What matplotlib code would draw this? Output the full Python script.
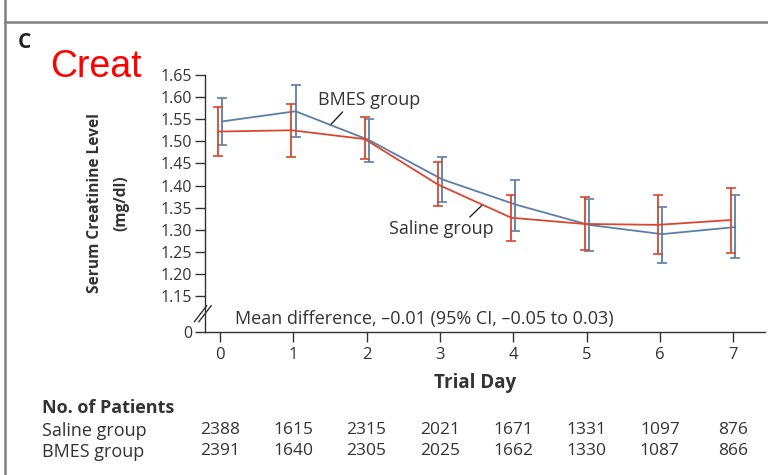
import matplotlib
matplotlib.use("Agg")
from matplotlib import pyplot as plt
import numpy as np

plt.rcParams['font.family'] = ['Open Sans', 'DejaVu Sans']

days = [0, 1, 2, 3, 4, 5, 6, 7]
saline_mean = [1.522, 1.525, 1.505, 1.402, 1.327, 1.313, 1.311, 1.322]
saline_hi = [1.577, 1.584, 1.555, 1.454, 1.379, 1.375, 1.378, 1.395]
saline_lo = [1.466, 1.464, 1.460, 1.354, 1.274, 1.253, 1.244, 1.248]
bmes_mean = [1.545, 1.568, 1.503, 1.414, 1.357, 1.311, 1.290, 1.306]
bmes_hi = [1.599, 1.627, 1.551, 1.464, 1.413, 1.369, 1.352, 1.378]
bmes_lo = [1.491, 1.509, 1.454, 1.363, 1.298, 1.251, 1.225, 1.236]

saline_n = [2388, 1615, 2315, 2021, 1671, 1331, 1097, 876]
bmes_n = [2391, 1640, 2305, 2025, 1662, 1330, 1087, 866]

yticks = [1.15, 1.20, 1.25, 1.30, 1.35, 1.40, 1.45, 1.50, 1.55, 1.60, 1.65]
zero_pos = 1.0686  # where the "0" sits below the axis break

RED = '#d8472f'
BLUE = '#5b7fa6'
TXT = '#333333'

W, H = 768, 475

def fx(x):
    return x / W

def fy(y):
    return 1 - y / H

fig = plt.figure(figsize=(7.68, 4.75), dpi=100)
ax = fig.add_axes([fx(205), fy(332), fx(765) - fx(205), fy(75) - fy(332)])

x = np.array(days, dtype=float)
s_m = np.array(saline_mean)
b_m = np.array(bmes_mean)
s_err = [s_m - np.array(saline_lo), np.array(saline_hi) - s_m]
b_err = [b_m - np.array(bmes_lo), np.array(bmes_hi) - b_m]

ax.errorbar(x + 0.03, b_m, yerr=b_err, color=BLUE, lw=1.3, elinewidth=1.3,
            capsize=3.6, capthick=1.2, zorder=3)
ax.errorbar(x - 0.025, s_m, yerr=s_err, color=RED, lw=1.3, elinewidth=1.3,
            capsize=3.6, capthick=1.2, zorder=4)

ax.set_xlim(-0.205, 7.435)
ax.set_ylim(zero_pos, 1.65)
ax.set_xticks(days)
ax.set_xticklabels([str(d) for d in days])
ax.set_yticks([zero_pos] + yticks)
ax.set_yticklabels(['0'] + ['%.2f' % t for t in yticks])
ax.spines['top'].set_visible(False)
ax.spines['right'].set_visible(False)
for s in ['left', 'bottom']:
    ax.spines[s].set_color('#333333')
    ax.spines[s].set_linewidth(1.0)
ax.tick_params(axis='y', direction='out', length=7, width=1.0, colors='#333333',
               labelsize=11.5, labelcolor=TXT, pad=2)
ax.tick_params(axis='x', direction='out', length=7, width=1.0, colors='#333333',
               labelsize=12, labelcolor=TXT, pad=4)

# axis break marks
for dx in [-0.019, -0.011]:
    ax.plot([dx, dx + 0.022], [0.040, 0.102], transform=ax.transAxes,
            color='#333333', lw=1.0, clip_on=False)

# series labels with leader lines
ax.annotate('BMES group', xy=(1.50, 1.536), xytext=(1.34, 1.593),
            fontsize=13, color=TXT, ha='left', va='center',
            arrowprops=dict(arrowstyle='-', color='#222222', lw=1.0,
                            shrinkA=0, shrinkB=0, relpos=(0.28, 0.1)))
ax.annotate('Saline group', xy=(3.584, 1.357), xytext=(3.015, 1.302),
            fontsize=13, color=TXT, ha='center', va='center',
            arrowprops=dict(arrowstyle='-', color='#222222', lw=1.0,
                            shrinkA=0, shrinkB=0, relpos=(0.73, 0.9)))

ax.text(0.054, 0.05, 'Mean difference, \u20130.01 (95% CI, \u20130.05 to 0.03)',
        transform=ax.transAxes, fontsize=13, color=TXT, ha='left', va='center')

# y label
fig.text(fx(95), fy(203), 'Serum Creatinine Level', rotation=90, fontsize=11.2,
         fontweight='bold', color=TXT, ha='center', va='center')
fig.text(fx(121), fy(203), '(mg/dl)', rotation=90, fontsize=11.2,
         fontweight='bold', color=TXT, ha='center', va='center')

fig.text(fx(475), fy(383), 'Trial Day', fontsize=13.5, fontweight='bold',
         color=TXT, ha='center', va='center')

# number at risk table
fig.text(fx(42), fy(408), 'No. of Patients', fontsize=13, fontweight='bold',
         color=TXT, ha='left', va='center')
fig.text(fx(42), fy(431), 'Saline group', fontsize=13, color=TXT, ha='left', va='center')
fig.text(fx(42), fy(452), 'BMES group', fontsize=13, color=TXT, ha='left', va='center')
for d, n1, n2 in zip(days, saline_n, bmes_n):
    xd = ax.transData.transform((d, 1.3))[0] / fig.bbox.width
    fig.text(xd, fy(430), str(n1), fontsize=12.5, color=TXT, ha='center', va='center')
    fig.text(xd, fy(451), str(n2), fontsize=12.5, color=TXT, ha='center', va='center')

# panel label and overlay text
fig.text(fx(18), fy(43), 'C', fontsize=15, fontweight='bold', color='#222222',
         ha='left', va='center')
fig.text(fx(50), fy(77), 'Creat', fontsize=27, color='#ff0000',
         family='Liberation Sans', ha='left', va='baseline')

# panel frame lines
fig.add_artist(plt.Line2D([fx(5), fx(5)], [0, 1], color='#808080', lw=1.8))
fig.add_artist(plt.Line2D([fx(5), 1], [fy(22), fy(22)], color='#808080', lw=1.8))

fig.savefig('out.png', dpi=100)
